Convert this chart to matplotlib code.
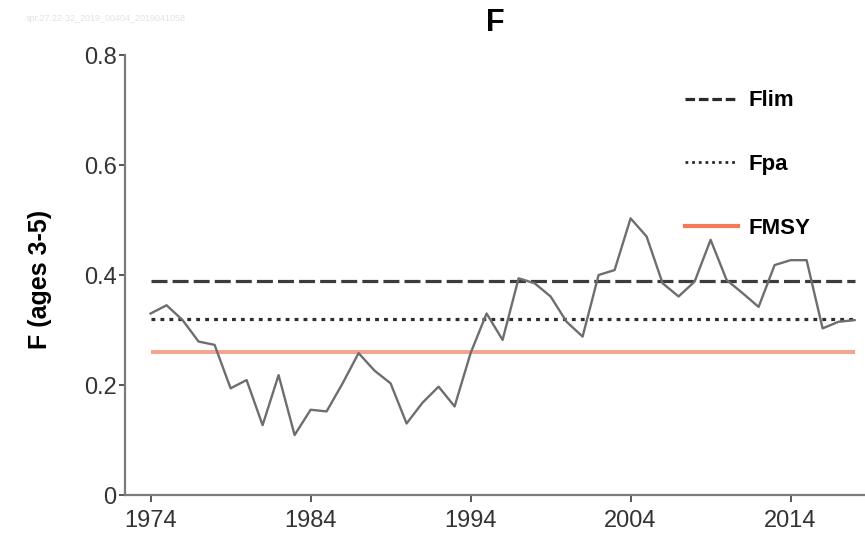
import matplotlib.pyplot as plt
from matplotlib.lines import Line2D

# Fishing mortality (ages 3-5)
years = list(range(1974, 2019))
f_values = [0.330, 0.345, 0.318, 0.279, 0.273, 0.194, 0.209, 0.127, 0.218, 0.109,
            0.155, 0.152, 0.203, 0.258, 0.226, 0.203, 0.130, 0.168, 0.197, 0.161,
            0.258, 0.330, 0.282, 0.394, 0.385, 0.361, 0.315, 0.288, 0.400, 0.409,
            0.503, 0.470, 0.385, 0.361, 0.388, 0.464, 0.391, 0.367, 0.342, 0.418,
            0.427, 0.427, 0.303, 0.315, 0.318]

# reference points
flim = 0.39
fpa = 0.32
fmsy = 0.26

x_ticks = [1974, 1984, 1994, 2004, 2014]
y_ticks = [0, 0.2, 0.4, 0.6, 0.8]
y_tick_labels = ["0", "0.2", "0.4", "0.6", "0.8"]

plt.rcParams['font.family'] = ['Liberation Sans', 'DejaVu Sans']

fig = plt.figure(figsize=(8.65, 5.42), dpi=100)
ax = fig.add_axes([0.1445, 0.0867, 0.8555, 0.8118])

ax.plot(years, f_values, color="#6e6e6e", lw=1.7, zorder=3)
ax.hlines(flim, years[0], years[-1], colors="#3c3c3c", linestyles=(0, (5, 1.6)), lw=2.3)
ax.hlines(fpa, years[0], years[-1], colors="#2e2e2e", linestyles=(0, (1.2, 1.6)), lw=2.3)
ax.hlines(fmsy, years[0], years[-1], colors="#f4a48c", lw=2.8)

ax.set_xlim(1972.4, 2018.65)
ax.set_ylim(0, 0.8)
ax.set_xticks(x_ticks)
ax.set_yticks(y_ticks)
ax.set_yticklabels(y_tick_labels)

for side in ["top", "right"]:
    ax.spines[side].set_visible(False)
for side in ["left", "bottom"]:
    ax.spines[side].set_color("#7a7a7a")
    ax.spines[side].set_linewidth(1.6)

ax.tick_params(axis="y", length=4, width=1.4, color="#555555", labelsize=17,
               labelcolor="#333333", pad=2)
ax.tick_params(axis="x", length=5, width=1.4, color="#555555", labelsize=17,
               labelcolor="#333333", pad=6)

ax.set_ylabel("F (ages 3-5)", fontsize=18, fontweight="bold")
ax.yaxis.set_label_coords(-0.099, 0.49)
ax.set_title("F", fontsize=22, fontweight="bold", pad=17)

# legend with stronger colour for the FMSY handle
handles = [
    Line2D([], [], color="#2a2a2a", lw=2.3, linestyle=(0, (3, 1.2))),
    Line2D([], [], color="#2a2a2a", lw=2.0, linestyle=(0, (1, 1.4))),
    Line2D([], [], color="#f47a55", lw=3.0),
]
ax.legend(handles, ["Flim", "Fpa", "FMSY"], loc="upper left",
          bbox_to_anchor=(0.7297, 0.965), frameon=False,
          prop={"weight": "bold", "size": 16}, handlelength=2.4,
          handletextpad=0.45, labelspacing=1.92)

# faint file stamp at the top left
fig.text(0.03, 0.965, "spr.27.22-32_2019_00404_2019041058", fontsize=6.5,
         color="#e2e2e2", ha="left", va="center")

fig.savefig("out.png", dpi=100)
